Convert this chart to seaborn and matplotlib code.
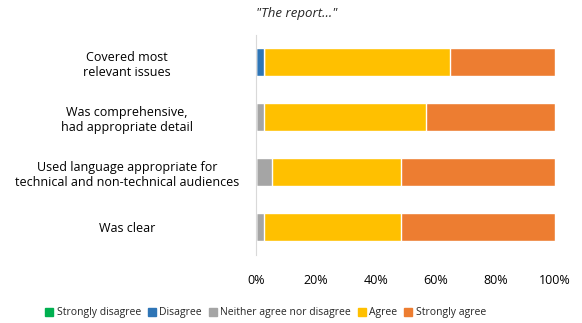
import pandas as pd
import seaborn as sns
import matplotlib.pyplot as plt
from matplotlib.lines import Line2D

# --- data (share of respondents, %)
statements = ['Covered most\nrelevant issues',
              'Was comprehensive,\nhad appropriate detail',
              'Used language appropriate for\ntechnical and non-technical audiences',
              'Was clear']
levels = ['Strongly disagree', 'Disagree', 'Neither agree nor disagree', 'Agree', 'Strongly agree']
strongly_disagree = [0.0, 0.0, 0.0, 0.0]
disagree = [2.7, 0.0, 0.0, 0.0]
neither = [0.0, 2.7, 5.4, 2.7]
agree = [62.2, 54.1, 43.2, 45.9]
strongly_agree = [35.1, 43.2, 51.4, 51.4]
colours = ['#00B050', '#2E75B6', '#A5A5A5', '#FFC000', '#ED7D31']

df = pd.DataFrame({
    'statement': statements,
    levels[0]: strongly_disagree,
    levels[1]: disagree,
    levels[2]: neither,
    levels[3]: agree,
    levels[4]: strongly_agree,
})
cum = df[levels].cumsum(axis=1)

sns.set_style('white')
plt.rcParams['font.family'] = ['Open Sans', 'DejaVu Sans']

fig = plt.figure(figsize=(5.82, 3.23), dpi=100)
ax = fig.add_axes([0.44, 0.212, 0.5136, 0.681])

# stacked bars: draw cumulative totals from the widest down
for lvl, col in reversed(list(zip(levels, colours))):
    sns.barplot(x=cum[lvl], y=df['statement'], color=col, width=0.51,
                saturation=1, orient='h', ax=ax)

ax.set_xlim(0, 100)
ax.set_xticks([0, 20, 40, 60, 80, 100])
ax.set_xticklabels([f'{t}%' for t in range(0, 101, 20)])
ax.set_xlabel('')
ax.set_ylabel('')
ax.tick_params(axis='both', length=0, labelsize=9, colors='#000000')
ax.tick_params(axis='x', pad=14)
for lab in ax.get_yticklabels():
    lab.set_horizontalalignment('center')
    lab.set_multialignment('center')
ax.tick_params(axis='y', pad=93)
for s in ['top', 'right', 'bottom']:
    ax.spines[s].set_visible(False)
ax.spines['left'].set_color('#D9D9D9')

fig.text(297 / 582, 1 - 13 / 323, '"The report..."', ha='center', va='center',
         fontsize=9.5, style='italic')

handles = [Line2D([], [], marker='s', linestyle='', markersize=5.2, color=c, label=l)
           for l, c in zip(levels, colours)]
fig.legend(handles=handles, loc='center', bbox_to_anchor=(266 / 582, 1 - 313 / 323),
           ncol=5, frameon=False, fontsize=7.5, handlelength=0.6,
           handletextpad=0.45, columnspacing=0.7)

fig.savefig('out.png', dpi=100)
